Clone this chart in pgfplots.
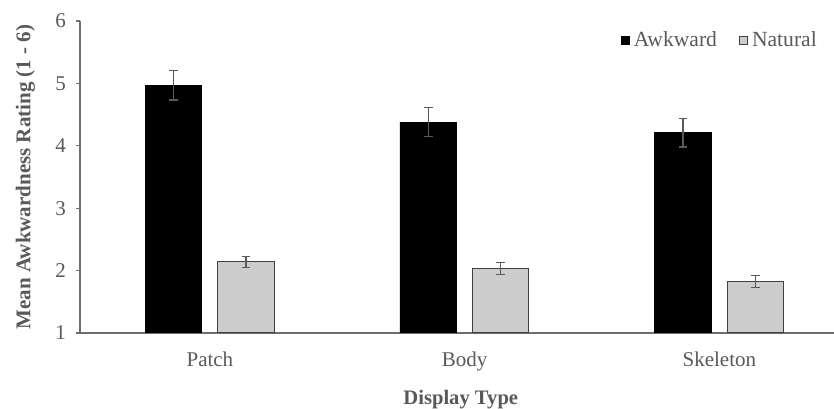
\documentclass[border=0pt]{standalone}
\usepackage{pgfplots}
\pgfplotsset{compat=1.18}
\usepackage{fontspec}
\setmainfont{Liberation Serif}
\usetikzlibrary{calc}
\definecolor{txt}{HTML}{595959}
\definecolor{axl}{HTML}{6E6E6E}
\definecolor{natfill}{HTML}{CCCCCC}
\definecolor{natedge}{HTML}{404040}
\begin{document}
\begin{tikzpicture}
\begin{axis}[
  name=ax,
  scale only axis,
  width=377pt, height=156pt,
  xmin=-0.51, xmax=2.45,
  ymin=1, ymax=6,
  ytick={1,2,3,4,5,6},
  xtick={0,1,2},
  xticklabels={Patch,Body,Skeleton},
  axis x line*=bottom,
  axis y line*=left,
  axis line style={axl, line width=0.7pt},
  x axis line style={-}, y axis line style={-},
  tick align=outside,
  major tick length=2pt,
  x tick style={draw=none},
  y tick style={axl, line width=0.6pt},
  /pgf/number format/assume math mode=true,
  ticklabel style={font=\fontsize{10.5}{12}\selectfont, text=txt},
  xticklabel style={yshift=-4pt},
  yticklabel style={xshift=-1.5pt},
  ylabel={Mean Awkwardness Rating (1 - 6)},
  ylabel style={at={(axis description cs:-0.0723,0.5)}, anchor=center, font=\fontsize{10.5}{12}\selectfont\bfseries, text=txt},
  xlabel={Display Type},
  xlabel style={at={(axis description cs:0.505,-0.215)}, anchor=center, font=\fontsize{10.3}{12}\selectfont\bfseries, text=txt},
  ybar,
  bar width=28.25pt,
  legend style={draw=none, fill=none, at={(axis description cs:0.983,0.936)}, anchor=east, font=\fontsize{10.8}{12}\selectfont, text=txt, legend columns=2, /tikz/every even column/.append style={column sep=9pt}, inner sep=0pt},
  legend image code/.code={\draw[#1, line width=0.5pt] (0pt,-2pt) rectangle (4pt,2pt);},
  error bars/y dir=both,
  error bars/y explicit,
  error bars/error bar style={txt, line width=0.6pt},
  error bars/error mark options={rotate=90, mark size=2.2pt, txt, line width=0.6pt},
]
\addplot[fill=black, draw=black, bar shift=-18.2pt] coordinates {
  (0,4.97) +- (0,0.235)
  (1,4.38) +- (0,0.23)
  (2,4.21) +- (0,0.23)
};
\addlegendentry{Awkward}
\addplot[fill=natfill, draw=natedge, line width=0.5pt, bar shift=18.0pt] coordinates {
  (0,2.14) +- (0,0.09)
  (1,2.03) +- (0,0.095)
  (2,1.82) +- (0,0.095)
};
\addlegendentry{Natural}
\end{axis}
\pgfresetboundingbox
\path[use as bounding box] ($(ax.south west)+(-40pt,-38pt)$) rectangle ($(ax.north east)+(0pt,10.5pt)$);
\end{tikzpicture}
\end{document}
